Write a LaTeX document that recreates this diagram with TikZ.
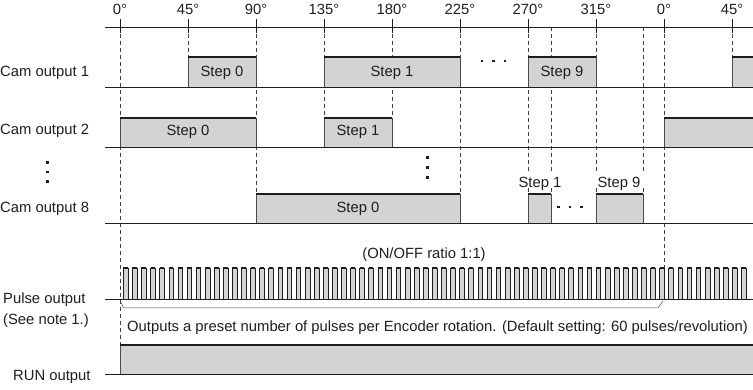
\documentclass[tikz,border=0pt]{standalone}
\usepackage{fontspec}
\setmainfont{Liberation Sans}
\definecolor{boxgray}{RGB}{211,211,211}
\definecolor{ink}{RGB}{30,30,30}
\newcommand\lblfont{\fontsize{14.8}{18}\selectfont}
\tikzset{
  lbl/.style={font=\lblfont, inner sep=0pt, text=ink},
  guide/.style={draw=ink!85, line width=0.6pt, dash pattern=on 4pt off 3pt},
  edge/.style={draw=ink!80, line width=0.6pt},
  topline/.style={draw=ink, line width=2.7pt},
  baseln/.style={draw=ink, line width=0.8pt},
  tick/.style={draw=ink, line width=1pt},
  dotsq/.style={fill=ink},
}
% closed high box: x1, x2, top, base
\newcommand\hibox[4]{%
  \fill[boxgray] (#1,#3) rectangle (#2,#4);
  \draw[edge] (#1,#4) -- (#1,#3) (#2,#3) -- (#2,#4);
  \draw[topline] (#1,#3) -- (#2,#3);
}
% open high box (runs off to the right)
\newcommand\hiopen[4]{%
  \fill[boxgray] (#1,#3) rectangle (#2,#4);
  \draw[edge] (#1,#4) -- (#1,#3);
  \draw[topline] (#1,#3) -- (#2,#3);
}
\newcommand\dotsqr[2]{\fill[dotsq] (#1-1.3,#2-1.3) rectangle (#1+1.3,#2+1.3);}
\begin{document}
\begin{tikzpicture}[x=1pt,y=-1pt]
\useasboundingbox (0,0) rectangle (753,390);

% ---- guide (dashed) lines
\foreach \gx/\gy in {120/345, 188/57, 256/194, 324/118, 392/118, 460/194,
                     528/171, 551/171, 596/171, 643/171, 664/268, 732/57}
  \draw[guide] (\gx,27) -- (\gx,\gy);
\foreach \gx in {528, 551, 596, 643}
  \draw[guide] (\gx,188) -- (\gx,194);

% ---- angle axis
\draw[baseln] (105,27) -- (753,27);
\foreach \tx/\tl in {120/0, 188/45, 256/90, 324/135, 392/180, 460/225,
                     528/270, 596/315, 664/0, 732/45}{
  \draw[tick] (\tx,19) -- (\tx,33);
  \node[lbl, anchor=base] (ang\tx) at (\tx,15) {\tl°};
}

% ---- Cam output 1
\hibox{188}{256}{57}{87}
\hibox{324}{460}{57}{87}
\hibox{528}{596}{57}{87}
\hiopen{732}{753}{57}{87}
\draw[baseln] (105,87) -- (753,87);
\node[lbl, anchor=base west] (c1) at (0,77) {Cam output 1};
\node[lbl, anchor=base] (c1s0) at (222,77) {Step 0};
\node[lbl, anchor=base] (c1s1) at (392,77) {Step 1};
\node[lbl, anchor=base] (c1s9) at (562,77) {Step 9};
\dotsqr{482}{61}\dotsqr{493.5}{61}\dotsqr{505}{61}

% ---- Cam output 2
\hibox{120}{256}{118}{147}
\hibox{324}{392}{118}{147}
\hiopen{664}{753}{118}{147}
\draw[baseln] (105,147) -- (753,147);
\node[lbl, anchor=base west] (c2) at (0,135) {Cam output 2};
\node[lbl, anchor=base] (c2s0) at (188,136) {Step 0};
\node[lbl, anchor=base] (c2s1) at (358,136) {Step 1};

% vertical dots
\dotsqr{47.7}{162.7}\dotsqr{47.7}{172}\dotsqr{47.7}{181.7}
\dotsqr{427.3}{157.3}\dotsqr{427.3}{167.3}\dotsqr{427.3}{177.3}

% ---- Cam output 8
\hibox{256}{460}{194}{223}
\hibox{528}{551}{194}{223}
\hibox{596}{643}{194}{223}
\draw[baseln] (105,223) -- (753,223);
\node[lbl, anchor=base west] (c8) at (0,213) {Cam output 8};
\node[lbl, anchor=base] (c8s0) at (358,213) {Step 0};
\node[lbl, anchor=base] (c8s1) at (540,188) {Step 1};
\node[lbl, anchor=base] (c8s9) at (619,188) {Step 9};
\dotsqr{558.3}{207}\dotsqr{570}{207}\dotsqr{581.7}{207}

% ---- Pulse output
\node[lbl, anchor=base] (ratio) at (424,259) {(ON/OFF ratio 1:1)};
\foreach \k in {0,...,68}{
  \pgfmathsetmacro\xa{123.3+9.09*\k}
  \pgfmathsetmacro\xb{\xa+4.7}
  \fill[boxgray] (\xa,268) rectangle (\xb,299);
  \draw[ink, line width=0.5pt] (\xa,299) -- (\xa,268) (\xb,268) -- (\xb,299);
  \draw[ink, line width=2.4pt] (\xa,268) -- (\xb,268);
}
\draw[baseln] (105,299) -- (753,299);
\coordinate (brA) at (120,300);
\coordinate (brB) at (123.5,308);
\coordinate (brC) at (658,308);
\coordinate (brD) at (663,301);
\draw[ink!80, line width=0.5pt] (brA) -- (brB) -- (brC) -- (brD);
\node[lbl, anchor=base west] (po) at (3,304) {Pulse output};
\node[lbl, anchor=base west] (pn) at (3,324) {(See note 1.)};
\node[lbl, anchor=base west, font=\fontsize{14.8}{18}\selectfont] (desc) at (127,331)
  {Outputs a preset number of pulses per Encoder rotation. (Default setting: 60 pulses/revolution)};

% ---- RUN output
\hiopen{120}{753}{345}{374}
\draw[baseln] (105,374) -- (753,374);
\node[lbl, anchor=base west] (run) at (13,380) {RUN output};
\end{tikzpicture}
\end{document}
